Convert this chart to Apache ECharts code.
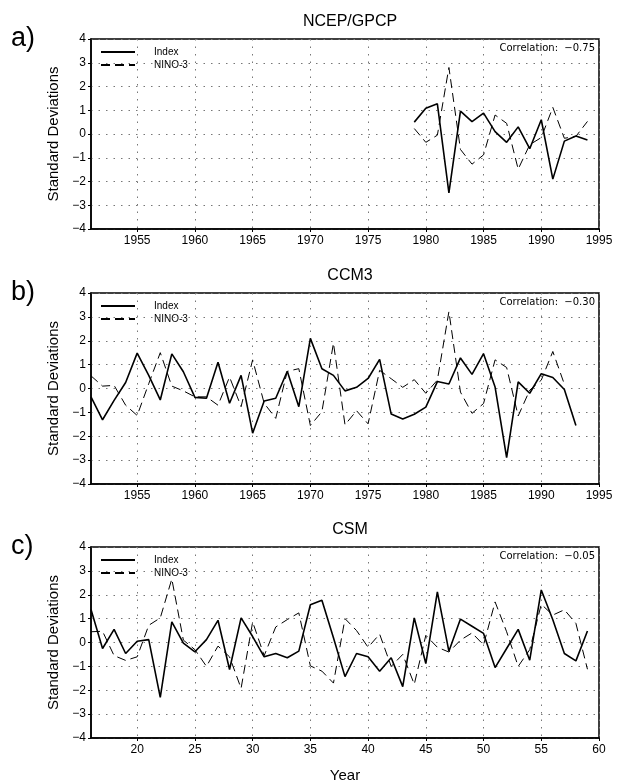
<!DOCTYPE html>
<html><head><meta charset="utf-8">
<script src="https://cdn.jsdelivr.net/npm/echarts@6/dist/echarts.min.js"></script>
<style>html,body{margin:0;padding:0;background:#fff}#c{width:617px;height:784px}</style>
</head><body><div id="c"></div>
<script>
// ---- Panel a: NCEP/GPCP ----
const yearsA = [1979,1980,1981,1982,1983,1984,1985,1986,1987,1988,1989,1990,1991,1992,1993,1994];
const indexA = [0.5,1.08,1.27,-2.48,0.96,0.52,0.88,0.1,-0.35,0.3,-0.62,0.6,-1.9,-0.3,-0.08,-0.25];
const ninoA  = [0.23,-0.35,-0.05,2.8,-0.65,-1.27,-0.88,0.8,0.45,-1.48,-0.45,-0.15,1.12,-0.18,-0.1,0.53];
// ---- Panel b: CCM3 ----
const yearsB = [1951,1952,1953,1954,1955,1956,1957,1958,1959,1960,1961,1962,1963,1964,1965,1966,1967,1968,1969,1970,1971,1972,1973,1974,1975,1976,1977,1978,1979,1980,1981,1982,1983,1984,1985,1986,1987,1988,1989,1990,1991,1992,1993];
const indexB = [-0.35,-1.31,-0.5,0.25,1.48,0.55,-0.48,1.45,0.7,-0.37,-0.41,1.1,-0.62,0.55,-1.87,-0.52,-0.41,0.72,-0.76,2.1,0.83,0.55,-0.1,0.05,0.42,1.22,-1.07,-1.28,-1.08,-0.78,0.29,0.19,1.28,0.59,1.46,0.06,-2.9,0.28,-0.2,0.62,0.46,-0.04,-1.55];
const ninoB  = [0.53,0.1,0.13,-0.7,-1.13,0.2,1.5,0.1,-0.1,-0.35,-0.35,-0.7,0.48,-0.76,1.2,-0.62,-1.25,0.72,0.83,-1.55,-0.97,1.9,-1.52,-0.93,-1.48,0.76,0.41,0.05,0.37,-0.2,0.35,3.22,-0.15,-1.04,-0.63,1.2,0.88,-1.15,-0.07,0.35,1.55,0.18];
// ---- Panel c: CSM (model years) ----
const yearsC = [16,17,18,19,20,21,22,23,24,25,26,27,28,29,30,31,32,33,34,35,36,37,38,39,40,41,42,43,44,45,46,47,48,49,50,51,52,53,54,55,56,57,58,59];
const indexC = [1.38,-0.25,0.55,-0.46,0.05,0.12,-2.3,0.86,-0.03,-0.39,0.12,0.93,-1.13,1.03,0.25,-0.6,-0.46,-0.64,-0.36,1.58,1.77,0.2,-1.43,-0.46,-0.6,-1.2,-0.64,-1.85,1.03,-0.88,2.12,-0.37,0.98,0.68,0.38,-1.05,-0.25,0.55,-0.74,2.2,0.95,-0.46,-0.77,0.48];
const ninoC  = [0.45,0.47,-0.55,-0.75,-0.6,0.72,1.03,2.66,0.1,-0.3,-1.0,-0.15,-0.6,-1.92,0.86,-0.55,0.65,0.96,1.24,-0.98,-1.2,-1.7,1.0,0.5,-0.2,0.35,-1.0,-0.5,-1.75,0.3,-0.2,-0.4,0.1,0.4,-0.1,1.7,0.45,-1.0,-0.3,1.6,1.15,1.37,0.8,-1.12];

const ticksAB = [1955,1960,1965,1970,1975,1980,1985,1990,1995];
const ticksC  = [20,25,30,35,40,45,50,55,60];
const titles  = ['NCEP/GPCP','CCM3','CSM'];
const letters = ['a)','b)','c)'];
const correlations = ['−0.75','−0.30','−0.05'];

const panels = [
  {years: yearsA, index: indexA, nino: ninoA, min: 1951, max: 1995, ticks: ticksAB, top: 39, height: 190},
  {years: yearsB, index: indexB, nino: ninoB, min: 1951, max: 1995, ticks: ticksAB, top: 293, height: 191},
  {years: yearsC, index: indexC, nino: ninoC, min: 16, max: 60, ticks: ticksC, top: 547, height: 191}
];

const FONT = 'Liberation Sans';
const pair = (xs, ys) => xs.slice(0, ys.length).map((x, i) => [x, ys[i]]);
const minus = v => String(v).replace('-', '−');

const grid = [], xAxis = [], yAxis = [], series = [], title = [], legend = [], graphic = [];
panels.forEach((p, i) => {
  grid.push({left: 91, right: 18, top: p.top, height: p.height, show: true, borderColor: '#000', borderWidth: 1.5, backgroundColor: 'transparent'});
  xAxis.push({
    type: 'value', gridIndex: i, min: p.min, max: p.max,
    axisLine: {show: true, onZero: false, lineStyle: {color: '#000', width: 1.5}},
    axisTick: {show: true, length: 3, customValues: p.ticks, lineStyle: {color: '#000'}},
    axisLabel: {customValues: p.ticks, color: '#000', fontFamily: FONT, fontSize: 12, margin: 6, formatter: v => String(v)},
    splitLine: {show: true, lineStyle: {color: '#777', type: [1.5, 6], width: 1}},
    name: i === 2 ? 'Year' : '', nameLocation: 'middle', nameGap: 30,
    nameTextStyle: {color: '#000', fontFamily: FONT, fontSize: 15}
  });
  yAxis.push({
    type: 'value', gridIndex: i, min: -4, max: 4, interval: 1,
    axisLine: {show: true, lineStyle: {color: '#000', width: 1.5}},
    axisTick: {show: true, length: 3, lineStyle: {color: '#000'}},
    axisLabel: {color: '#000', fontFamily: FONT, fontSize: 12, margin: 5, formatter: v => minus(v)},
    splitLine: {show: true, lineStyle: {color: '#777', type: [1.5, 6], width: 1}},
    name: 'Standard Deviations', nameLocation: 'middle', nameGap: 27, nameRotate: 90,
    nameTextStyle: {color: '#000', fontFamily: FONT, fontSize: 15}
  });
  series.push({
    name: 'Index', type: 'line', xAxisIndex: i, yAxisIndex: i, data: pair(p.years, p.index),
    showSymbol: false, symbol: 'none', itemStyle: {color: '#000'},
    lineStyle: {color: '#000', width: 1.6}, z: 3, animation: false
  });
  series.push({
    name: 'NINO-3', type: 'line', xAxisIndex: i, yAxisIndex: i, data: pair(p.years, p.nino),
    showSymbol: false, symbol: 'none', itemStyle: {color: '#000'},
    lineStyle: {color: '#000', width: 1, type: [9, 5]}, z: 2, animation: false
  });
  title.push({text: titles[i], left: 345, textAlign: 'center', top: p.top - 30,
    textStyle: {color: '#000', fontFamily: FONT, fontSize: 16, fontWeight: 'normal'}});
  legend.push({
    data: ['Index', 'NINO-3'], orient: 'vertical', left: 95, top: p.top + 3, itemGap: 3,
    itemWidth: 34, itemHeight: 10, selectedMode: false,
    itemStyle: {opacity: 0},
    textStyle: {color: '#000', fontFamily: FONT, fontSize: 10, padding: [0, 0, 0, 14]}
  });
  graphic.push({type: 'text', left: 11, top: p.top - 14,
    style: {text: letters[i], font: '27px "Liberation Sans"', fill: '#000'}});
  graphic.push({type: 'text', right: 22, top: p.top + 4,
    style: {text: 'Correlation:  ' + correlations[i], font: '10px "DejaVu Sans"', fill: '#000'}});
});

const chart = echarts.init(document.getElementById('c'), null, {renderer: 'canvas'});
chart.setOption({animation: false, backgroundColor: '#fff', title, legend, grid, xAxis, yAxis, series, graphic});
</script>
</body></html>
